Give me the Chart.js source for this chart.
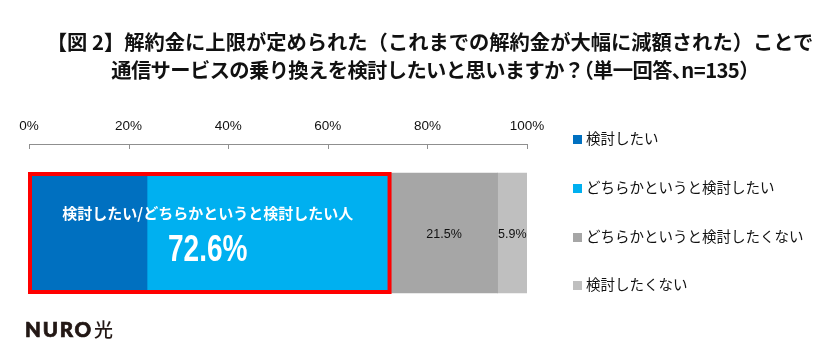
<!DOCTYPE html>
<html><head><meta charset="utf-8">
<script src="https://cdn.jsdelivr.net/npm/chart.js@4/dist/chart.umd.min.js"></script>
<style>
html,body{margin:0;padding:0;background:#fff;}
#wrap{position:relative;width:827px;height:357px;overflow:hidden;font-family:"Noto Sans CJK JP","Noto Sans",sans-serif;}
#c{position:absolute;left:0;top:0;}
#title{position:absolute;left:0;top:27px;width:860px;text-align:center;font-weight:bold;font-size:20.3px;line-height:28px;color:#111;}
#title .l2{font-feature-settings:"halt";letter-spacing:-0.6px;}
.lg{position:absolute;left:573px;font-size:14.5px;color:#111;line-height:16px;white-space:nowrap;}
.lg i{display:inline-block;width:9px;height:9px;margin-right:4px;vertical-align:0px;}
#logo{position:absolute;left:25px;top:315px;font-family:"Lato","Inter",sans-serif;font-weight:900;font-size:20.5px;color:#231815;letter-spacing:1.8px;-webkit-text-stroke:0.7px #231815;}
#logo span{font-family:"Noto Sans CJK JP";font-weight:500;font-size:19px;margin-left:1px;letter-spacing:0;-webkit-text-stroke:0;}
</style></head>
<body><div id="wrap">
<canvas id="c" width="827" height="357"></canvas>
<div id="title"><div class="l1">【図 2】解約金に上限が定められた（これまでの解約金が大幅に減額された）ことで</div><div class="l2">通信サービスの乗り換えを検討したいと思いますか？（単一回答、n=135）</div></div>
<div id="legend"></div>
<div id="logo">NURO<span>光</span></div>
</div>
<script>
const categories = ["全体"];
const seriesNames = ["検討したい","どちらかというと検討したい","どちらかというと検討したくない","検討したくない"];
const seriesValues = [[23.7],[48.9],[21.5],[5.9]];
const seriesColors = ["#0070C0","#00B0F0","#A6A6A6","#BFBFBF"];
const tickValues = [0,20,40,60,80,100];
const combinedLabel = "検討したい/どちらかというと検討したい人";
const combinedValue = "72.6%";

// legend
const lgTops = [130,179,228,276];
const lgEl = document.getElementById('legend');
seriesNames.forEach((n,i)=>{
  const d=document.createElement('div');d.className='lg';d.style.top=lgTops[i]+'px';
  d.innerHTML='<i style="background:'+seriesColors[i]+'"></i>'+n;lgEl.appendChild(d);
});

const overlay = {
  id:'overlay',
  afterDatasetsDraw(chart){
    const ctx=chart.ctx, xs=chart.scales.x, ca=chart.chartArea;
    ctx.save();
    ctx.strokeStyle='#8f8f8f';ctx.lineWidth=1;
    tickValues.forEach(v=>{const x=Math.round(xs.getPixelForValue(v))+0.5;ctx.beginPath();ctx.moveTo(x,ca.top);ctx.lineTo(x,ca.top+5);ctx.stroke();});
    const meta0=chart.getDatasetMeta(0).data[0];
    const top=meta0.y-meta0.height/2, bot=meta0.y+meta0.height/2;
    const sum2=seriesValues[0][0]+seriesValues[1][0];
    const x0=xs.getPixelForValue(0), x1=xs.getPixelForValue(sum2);
    ctx.strokeStyle='#FF0000';ctx.lineWidth=4;
    ctx.strokeRect(x0+1,top+1,x1-x0-2,bot-top-2);
    ctx.fillStyle='#fff';ctx.textAlign='center';ctx.textBaseline='middle';
    const cx=(x0+x1)/2-2;
    ctx.font='bold 15px "Noto Sans CJK JP"';
    ctx.fillText(combinedLabel,cx,meta0.y-20);
    ctx.save();ctx.translate(cx,meta0.y+18);ctx.scale(0.85,1.1);
    ctx.font='bold 33px "Liberation Sans"';ctx.fillText(combinedValue,0,0);ctx.restore();
    ctx.fillStyle='#111';ctx.font='12.5px "Liberation Sans"';
    let acc=sum2;
    [2,3].forEach(i=>{const v=seriesValues[i][0];const xc=xs.getPixelForValue(acc+v/2);ctx.fillText(v.toFixed(1)+'%',xc,meta0.y+2);acc+=v;});
    ctx.restore();
  }
};

new Chart(document.getElementById('c'),{
  type:'bar',
  data:{labels:categories,datasets:seriesNames.map((n,i)=>({label:n,data:seriesValues[i],backgroundColor:seriesColors[i],borderWidth:0,barThickness:120}))},
  options:{
    indexAxis:'y',responsive:false,animation:false,
    layout:{padding:{left:29,right:300,top:110,bottom:35}},
    plugins:{legend:{display:false},tooltip:{enabled:false}},
    scales:{
      x:{position:'top',min:0,max:100,stacked:true,
        afterFit(s){s.height=34;},
        ticks:{stepSize:20,padding:10,color:'#111',font:{family:'Liberation Sans',size:13.5},callback:v=>v+'%'},
        grid:{display:true,drawOnChartArea:false,drawTicks:false},
        border:{display:true,color:'#8f8f8f',width:1}},
      y:{stacked:true,display:false}
    }
  },
  plugins:[overlay]
});
</script>
</body></html>
